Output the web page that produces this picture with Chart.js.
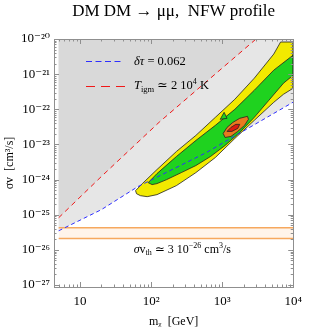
<!DOCTYPE html>
<html><head><meta charset="utf-8">
<script src="https://cdn.jsdelivr.net/npm/chart.js@4.4.0/dist/chart.umd.min.js"></script>
<style>html,body{margin:0;padding:0;background:#fff;}</style>
</head><body>
<canvas id="c" width="309" height="332"></canvas>
<script>
const SERIF = '"Liberation Serif","Times New Roman","DejaVu Serif",serif';

// ---------- data (GeV, cm^3/s) ----------
const xAxisRange = [4.3, 10000];
const yAxisRange = [8.8e-28, 1e-20];
const xTickValues = [10, 100, 1000, 10000];
const yTickValues = [1e-27, 1e-26, 1e-25, 1e-24, 1e-23, 1e-22, 1e-21, 1e-20];

const massEdges = [5, 10000];
const topValue = 1e-20;

const tauX = [5, 20, 65, 600, 10000];                 // δτ = 0.062
const tauY = [3.5e-26, 1.4e-25, 6.3e-25, 5.9e-24, 1.6e-22];
const tigmX = [5, 20, 130, 3000];                     // T_igm ≃ 2 10^4 K
const tigmY = [8.2e-26, 1.23e-24, 4.3e-23, 1e-20];

const thermalLow = 2.1e-26;
const thermalHigh = 4.3e-26;

const yellowX = [60.4, 75.3, 120.9, 227.1, 426.7, 801.9, 1507, 2832, 5321, 6637, 10000, 10000, 7295, 5321, 2832, 1507, 801.9, 426.7, 227.1, 120.9, 88.1, 70.7, 62.3];
const yellowY = [4.85e-25, 7.69e-25, 1.93e-24, 6.31e-24, 1.81e-23, 5.91e-23, 1.93e-22, 7.69e-22, 3.73e-21, 8.21e-21, 8.21e-21, 3.98e-22, 2.68e-22, 1.58e-22, 4.85e-23, 1.48e-23, 4.25e-24, 1.58e-24, 6.74e-25, 3.73e-25, 3.27e-25, 3.49e-25, 3.98e-25];

const greenX = [90.9, 120.9, 227.1, 426.7, 801.9, 1507, 2832, 5321, 10000, 10000, 7295, 4545, 2832, 1765, 1099, 684.8, 426.7, 265.9, 165.7, 120.9, 103.2];
const greenY = [8.2e-25, 1.48e-24, 4.54e-24, 1.3e-23, 3.49e-23, 1.0e-22, 3.49e-22, 1.3e-21, 3.49e-21, 9.36e-22, 5.53e-22, 1.81e-22, 5.91e-23, 2.2e-23, 9.36e-24, 4.54e-24, 2.51e-24, 1.58e-24, 1.0e-24, 7.69e-25, 7.2e-25];

const islandX = [939, 1065, 1171];
const islandY = [5.18e-23, 8.2e-23, 5.53e-23];

const orangeX = [1032, 1171, 1415, 1765, 2271, 2344, 2066, 1657, 1328, 1099];
const orangeY = [2.06e-23, 3.06e-23, 4.25e-23, 5.53e-23, 6.31e-23, 5.18e-23, 3.49e-23, 2.35e-23, 1.69e-23, 1.58e-23];

const redBlobX = [1171, 1328, 1555, 1765, 1657, 1371];
const redBlobY = [2.35e-23, 3.06e-23, 3.73e-23, 3.73e-23, 2.86e-23, 2.35e-23];

// ---------- helpers ----------
const pts = (xs, ys) => xs.map((x, i) => ({x, y: ys[i]}));
const closed = (xs, ys) => { const p = pts(xs, ys); p.push(p[0]); return p; };
const SUP = {'0':'⁰','1':'¹','2':'²','3':'³','4':'⁴','5':'⁵','6':'⁶','7':'⁷','8':'⁸','9':'⁹','-':'⁻'};
const sup = s => String(s).split('').map(c => SUP[c] || c).join('');

const lightGrayPoly = pts(tauX, tauY).concat([{x: massEdges[1], y: topValue}, {x: massEdges[0], y: topValue}]);
const darkGrayPoly = pts(tigmX, tigmY).concat([{x: massEdges[0], y: topValue}]);

const polyDs = (data, bg, order, border) => ({
  data, showLine: true, fill: 'shape', backgroundColor: bg,
  borderColor: border || 'rgba(0,0,0,0)', borderWidth: border ? 0.8 : 0,
  pointRadius: 0, tension: 0, order
});

const BLUE = '#2e2eff', RED = '#f01818';
const datasets = [
  {label: 'δτ = 0.062', data: pts(tauX, tauY), borderColor: BLUE, borderWidth: 1, borderDash: [4, 3], fill: false, pointRadius: 0, order: 0},
  {label: 'T_igm', data: pts(tigmX, tigmY), borderColor: RED, borderWidth: 1, borderDash: [5, 4], fill: false, pointRadius: 0, order: 0},
  polyDs(closed(redBlobX, redBlobY), '#dd1a10', 1, '#222'),
  polyDs(closed(orangeX, orangeY), '#ea7a1e', 2, '#222'),
  polyDs(closed(islandX, islandY), '#1fd21f', 3, '#222'),
  polyDs(closed(greenX, greenY), '#1fd21f', 4, '#222'),
  polyDs(closed(yellowX, yellowY), '#f2ea00', 5, '#222'),
  {label: 'th low', data: pts(massEdges, [thermalLow, thermalLow]), borderColor: '#f6a85e', borderWidth: 1.5, fill: false, pointRadius: 0, order: 6},
  {label: 'th high', data: pts(massEdges, [thermalHigh, thermalHigh]), borderColor: '#f6a85e', borderWidth: 1.5, fill: '-1', backgroundColor: '#fff4ea', pointRadius: 0, order: 6},
  polyDs(darkGrayPoly, '#d9d9d9', 7),
  polyDs(lightGrayPoly, '#e6e6e6', 8)
];

// ---------- plugins ----------
function fontOf(s) { return (s.i ? 'italic ' : '') + (s.size || 12) + 'px ' + SERIF; }
function drawRich(ctx, x, y, segs, align) {
  let w = 0;
  segs.forEach(s => { ctx.font = fontOf(s); s.w = ctx.measureText(s.t).width; w += s.w; });
  let cx = align === 'center' ? x - w / 2 : x;
  ctx.textAlign = 'left'; ctx.textBaseline = 'alphabetic'; ctx.fillStyle = '#000';
  segs.forEach(s => { ctx.font = fontOf(s); ctx.fillText(s.t, cx, y + (s.dy || 0)); cx += s.w; });
}

const frameTicks = {
  id: 'frameTicks',
  afterDatasetsDraw(chart) {
    const {ctx, chartArea: a, scales: {x, y}} = chart;
    ctx.save();
    ctx.strokeStyle = '#8f8f8f'; ctx.lineWidth = 1;
    ctx.beginPath();
    for (let e = 0; e <= 4; e++) for (let k = 1; k <= 9; k++) {
      const v = k * Math.pow(10, e);
      if (v < x.min || v > x.max * 1.0001) continue;
      const px = Math.round(x.getPixelForValue(v)) + 0.5;
      const L = k === 1 ? 5 : 2.5;
      ctx.moveTo(px, a.bottom); ctx.lineTo(px, a.bottom - L);
      ctx.moveTo(px, a.top); ctx.lineTo(px, a.top + L);
    }
    for (let e = -28; e <= -20; e++) for (let k = 1; k <= 9; k++) {
      const v = k * Math.pow(10, e);
      if (v < y.min || v > y.max * 1.0001) continue;
      const py = Math.round(y.getPixelForValue(v)) + 0.5;
      const L = k === 1 ? 5 : 2.5;
      ctx.moveTo(a.left, py); ctx.lineTo(a.left + L, py);
      ctx.moveTo(a.right, py); ctx.lineTo(a.right - L, py);
    }
    ctx.stroke();
    ctx.strokeRect(Math.round(a.left) + 0.5, Math.round(a.top) + 0.5, Math.round(a.right - a.left), Math.round(a.bottom - a.top));
    ctx.restore();
  },
  afterDraw(chart) {
    const {ctx, chartArea: a, scales: {x, y}} = chart;
    ctx.save();
    // legend
    const lx0 = Math.round(a.left) + 32, ly1 = Math.round(a.top) + 22, ly2 = Math.round(a.top) + 47;
    ctx.lineWidth = 1;
    ctx.strokeStyle = BLUE; ctx.setLineDash([6, 3.5]);
    ctx.beginPath(); ctx.moveTo(lx0, ly1 + 0.5); ctx.lineTo(lx0 + 37, ly1 + 0.5); ctx.stroke();
    ctx.strokeStyle = RED; ctx.setLineDash([9, 6]);
    ctx.beginPath(); ctx.moveTo(lx0, ly2 + 0.5); ctx.lineTo(lx0 + 39, ly2 + 0.5); ctx.stroke();
    ctx.setLineDash([]);
    drawRich(ctx, lx0 + 48, ly1 + 4, [{t: 'δτ', i: true, size: 12.5}, {t: ' = 0.062', size: 12.5}]);
    drawRich(ctx, lx0 + 48, ly2 + 3, [
      {t: 'T', i: true, size: 12.5}, {t: 'igm', size: 8.5, dy: 3},
      {t: ' ≃ 2 10', size: 12.5}, {t: '4', size: 8, dy: -5}, {t: ' K', size: 12.5}]);
    // thermal cross-section label
    const ax = x.getPixelForValue(275), ay = y.getPixelForValue(1e-26) + 3;
    drawRich(ctx, ax, ay, [
      {t: 'σ', i: true}, {t: 'v'}, {t: 'th', size: 8, dy: 2.5},
      {t: ' ≃ 3 10'}, {t: '−26', size: 8, dy: -5}, {t: ' cm'}, {t: '3', size: 8, dy: -5}, {t: '/s'}], 'center');
    ctx.restore();
  }
};

new Chart(document.getElementById('c'), {
  type: 'line',
  data: {datasets},
  options: {
    responsive: false, animation: false, devicePixelRatio: 1,
    layout: {padding: {left: 0, right: 9, top: 0, bottom: 0}},
    elements: {line: {tension: 0}, point: {radius: 0}},
    plugins: {
      legend: {display: false}, tooltip: {enabled: false},
      title: {display: true, fullSize: false, text: 'DM DM → μμ,  NFW profile', color: '#000',
        font: {family: SERIF, size: 17, weight: 'normal'}, padding: {top: 1, bottom: 17.6}}
    },
    scales: {
      x: {
        type: 'logarithmic', position: 'bottom', min: xAxisRange[0], max: xAxisRange[1],
        grid: {display: false, drawTicks: false}, border: {display: false},
        afterBuildTicks: s => { s.ticks = xTickValues.map(v => ({value: v})); },
        afterFit: s => { s.height = 45; },
        ticks: {autoSkip: false, maxRotation: 0, padding: 7, color: '#000',
          font: {family: SERIF, size: 13},
          callback: v => { const e = Math.round(Math.log10(v)); return e === 1 ? '10' : '10' + sup(e); }},
        title: {display: true, text: 'mᵪ  [GeV]', color: '#000', font: {family: SERIF, size: 12}, padding: {top: 0, bottom: 3}}
      },
      y: {
        type: 'logarithmic', position: 'left', min: yAxisRange[0], max: yAxisRange[1],
        grid: {display: false, drawTicks: false}, border: {display: false},
        afterBuildTicks: s => { s.ticks = yTickValues.map(v => ({value: v})); },
        afterFit: s => { s.width = 54; },
        ticks: {autoSkip: false, padding: 4, color: '#000',
          font: {family: SERIF, size: 13},
          callback: v => '10' + sup(Math.round(Math.log10(v)))},
        title: {display: true, text: 'σv  [cm³/s]', color: '#000', font: {family: SERIF, size: 12}, padding: {top: 3, bottom: 0}}
      }
    }
  },
  plugins: [frameTicks]
});
</script>
</body></html>
